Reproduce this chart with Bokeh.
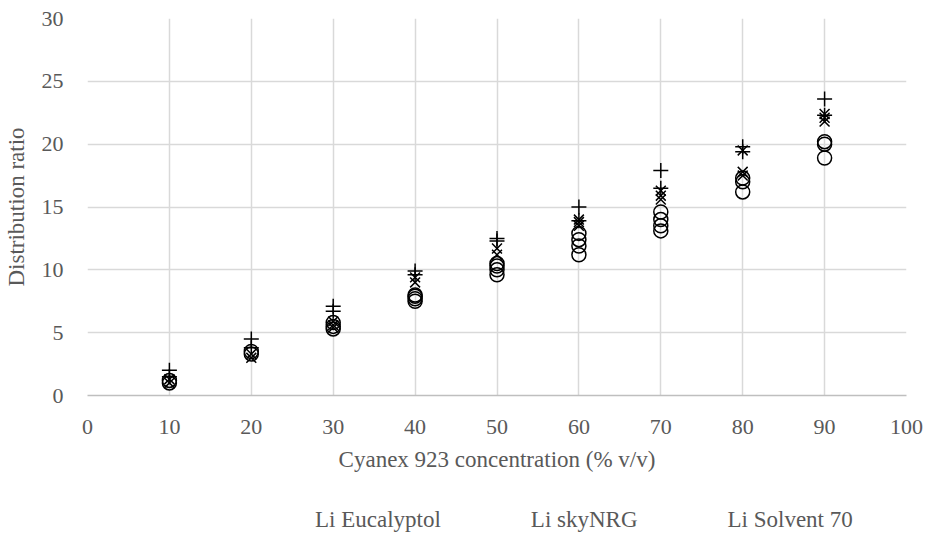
from bokeh.plotting import figure
from bokeh.layouts import column
from bokeh.models import Range1d, FixedTicker, Legend, LegendItem
from bokeh.embed import file_html
from bokeh.resources import INLINE

# Data (replicates per concentration)
euc_x = [10, 10, 20, 20, 30, 30, 30, 40, 40, 40, 40, 50, 50, 50, 50,
         60, 60, 60, 60, 70, 70, 70, 70, 80, 80, 80, 90, 90, 90]
euc_y = [1.0, 1.2, 3.3, 3.5, 5.3, 5.5, 5.8, 7.5, 7.7, 7.9, 8.0, 9.6, 10.0, 10.3, 10.5,
         11.2, 11.9, 12.4, 12.9, 13.1, 13.5, 14.0, 14.6, 16.2, 17.0, 17.3, 18.9, 20.0, 20.2]
sky_x = [10, 10, 20, 20, 30, 30, 30, 40, 40, 50, 50, 60, 60, 60, 70, 70, 70, 80, 80, 80, 90, 90, 90]
sky_y = [1.0, 1.3, 3.0, 3.3, 5.4, 5.6, 5.9, 9.0, 9.4, 11.2, 11.7, 13.5, 13.8, 14.0,
         15.6, 15.9, 16.3, 17.5, 17.8, 19.5, 21.8, 22.1, 22.4]
sol_x = [10, 10, 20, 20, 30, 30, 40, 40, 50, 50, 60, 60, 70, 70, 80, 80, 90, 90]
sol_y = [1.5, 2.0, 3.8, 4.5, 6.7, 7.1, 9.6, 9.9, 12.3, 12.5, 13.9, 15.0, 16.5, 17.9,
         19.4, 19.8, 22.3, 23.6]

series_labels = ["Li Eucalyptol", "Li skyNRG", "Li Solvent 70"]
x_ticks = [0, 10, 20, 30, 40, 50, 60, 70, 80, 90, 100]
y_ticks = [0, 5, 10, 15, 20, 25, 30]

FONT = "Liberation Serif"
GRAY = "#595959"

p = figure(width=925, height=490, output_backend="svg", toolbar_location=None,
           x_range=Range1d(0, 100), y_range=Range1d(0, 30),
           min_border_left=84, min_border_right=19, min_border_top=18, min_border_bottom=95)
p.outline_line_color = None
p.background_fill_color = "white"
p.border_fill_color = "white"

for ax in (p.xaxis[0], p.yaxis[0]):
    ax.major_tick_line_color = None
    ax.minor_tick_line_color = None
    ax.major_label_text_font = FONT
    ax.major_label_text_font_size = "22px"
    ax.major_label_text_color = GRAY
    ax.axis_label_text_font = FONT
    ax.axis_label_text_font_size = "23px"
    ax.axis_label_text_color = GRAY
    ax.axis_label_text_font_style = "normal"

p.xaxis[0].ticker = FixedTicker(ticks=x_ticks)
p.yaxis[0].ticker = FixedTicker(ticks=y_ticks)
p.xaxis[0].axis_line_color = "#bfbfbf"
p.xaxis[0].axis_line_width = 1.5
p.yaxis[0].axis_line_color = None
p.xaxis[0].axis_label = "Cyanex 923 concentration (% v/v)"
p.yaxis[0].axis_label = "Distribution ratio"
p.xaxis[0].major_label_standoff = 18
p.yaxis[0].major_label_standoff = 18
p.xaxis[0].axis_label_standoff = 10
p.yaxis[0].axis_label_standoff = 10

p.xgrid.ticker = FixedTicker(ticks=x_ticks)
p.ygrid.ticker = FixedTicker(ticks=y_ticks)
p.grid.grid_line_color = "#d9d9d9"
p.grid.grid_line_width = 1.5

circle_style = dict(marker="circle", size=14, fill_color=None, line_color="black", line_width=1.5)
x_style = dict(marker="x", size=14, line_color="black", line_width=1.5)
cross_style = dict(marker="cross", size=15, line_color="black", line_width=1.5)

p.scatter(euc_x, euc_y, **circle_style)
p.scatter(sky_x, sky_y, **x_style)
p.scatter(sol_x, sol_y, **cross_style)

# separate strip holding the legend (keys use empty renderers with same styles)
lf = figure(width=925, height=45, output_backend="svg", toolbar_location=None,
            x_range=Range1d(0, 1), y_range=Range1d(0, 1),
            x_axis_location=None, y_axis_location=None,
            min_border_left=0, min_border_right=0, min_border_top=0, min_border_bottom=0)
lf.outline_line_color = None
lf.grid.visible = False
k1 = lf.scatter(x=[], y=[], **circle_style)
k2 = lf.scatter(x=[], y=[], **x_style)
k3 = lf.scatter(x=[], y=[], **cross_style)

legend = Legend(items=[LegendItem(label=series_labels[0], renderers=[k1]),
                       LegendItem(label=series_labels[1], renderers=[k2]),
                       LegendItem(label=series_labels[2], renderers=[k3])],
                orientation="horizontal", location=(188, 2),
                label_text_font=FONT, label_text_font_size="23px",
                label_text_color=GRAY, border_line_color=None,
                background_fill_alpha=0, spacing=50, glyph_width=20, glyph_height=20,
                label_standoff=20, padding=0, margin=0)
lf.add_layout(legend, "center")

open("out.html", "w").write(file_html(column(p, lf), INLINE))
